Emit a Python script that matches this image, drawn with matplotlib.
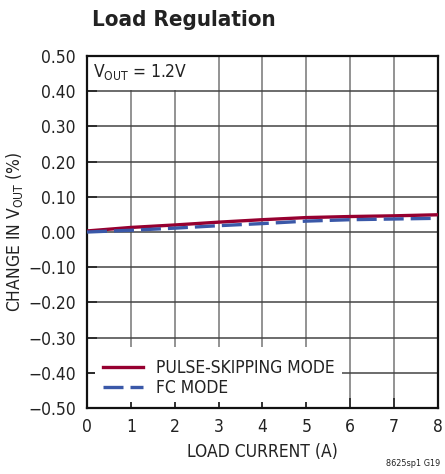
import matplotlib
matplotlib.use("Agg")
import matplotlib.pyplot as plt
from matplotlib.patches import Rectangle

# data
load_a = [0, 1, 2, 3, 4, 5, 6, 7, 8]
pulse_skip = [0.003, 0.013, 0.020, 0.028, 0.035, 0.041, 0.044, 0.046, 0.049]
fc_mode = [0.000, 0.005, 0.011, 0.018, 0.024, 0.031, 0.035, 0.037, 0.039]

x_ticks = [0, 1, 2, 3, 4, 5, 6, 7, 8]
y_ticks = [-0.5, -0.4, -0.3, -0.2, -0.1, 0.0, 0.1, 0.2, 0.3, 0.4, 0.5]

plt.rcParams['font.family'] = ['DejaVu Sans']
plt.rcParams['font.stretch'] = 'condensed'
plt.rcParams['mathtext.fontset'] = 'custom'
plt.rcParams['mathtext.rm'] = 'DejaVu Sans:stretch=condensed'

TXT = '#222222'
FS = 12.5

fig = plt.figure(figsize=(4.45, 4.74), dpi=100)
ax = fig.add_axes([0.1955, 0.139, 0.7885, 0.743])

ax.set_xlim(0, 8)
ax.set_ylim(-0.5, 0.5)
ax.set_xticks(x_ticks)
ax.set_yticks(y_ticks)
ax.set_yticklabels([f"{v:.2f}".replace("-", "\u2212") for v in y_ticks])
ax.tick_params(direction='in', length=7, width=1.2, labelsize=FS, colors=TXT)
ax.tick_params(axis='x', pad=7)
ax.tick_params(axis='y', pad=8)
ax.set_axisbelow(True)
ax.grid(axis='x', color='#8a8a8a', lw=1.3)
ax.grid(axis='y', color='#444444', lw=1.1)
for s in ax.spines.values():
    s.set_linewidth(1.6)
    s.set_color('#111111')

# white boxes behind the labels that hide the grid
ax.add_patch(Rectangle((0, 0.903), 0.362, 0.097, transform=ax.transAxes,
                       facecolor='white', edgecolor='none', zorder=1))
ax.add_patch(Rectangle((0.023, 0.016), 0.703, 0.157, transform=ax.transAxes,
                       facecolor='white', edgecolor='none', zorder=1))

ax.plot(load_a, pulse_skip, color='#960030', lw=2.4, zorder=3,
        label='PULSE-SKIPPING MODE')
ax.plot(load_a, fc_mode, color='#3a58a8', lw=2.4, ls=(0, (6, 2.1)), zorder=3,
        label='FC MODE')

ax.legend(loc='lower left', bbox_to_anchor=(0.006, -0.007), frameon=False,
          fontsize=FS, handlelength=2.3, handletextpad=0.75,
          labelspacing=0.1, borderpad=0.3, labelcolor=TXT)

ax.text(0.018, 0.953, r'V$_{\mathrm{OUT}}$ = 1.2V', transform=ax.transAxes,
        fontsize=FS, va='center', ha='left', color=TXT, zorder=4)

ax.set_xlabel('LOAD CURRENT (A)', fontsize=FS, color=TXT, labelpad=5)
ax.set_ylabel(r'CHANGE IN V$_{\mathrm{OUT}}$ (%)', fontsize=FS, color=TXT)
ax.yaxis.set_label_coords(-0.176, 0.5)

fig.text(0.207, 0.958, 'Load Regulation', fontsize=16, fontweight='bold',
         ha='left', va='center', color=TXT)
fig.text(0.99, 0.012, '8625sp1 G19', fontsize=6.5, ha='right', va='bottom',
         color=TXT)

fig.savefig('out.png', dpi=100)
